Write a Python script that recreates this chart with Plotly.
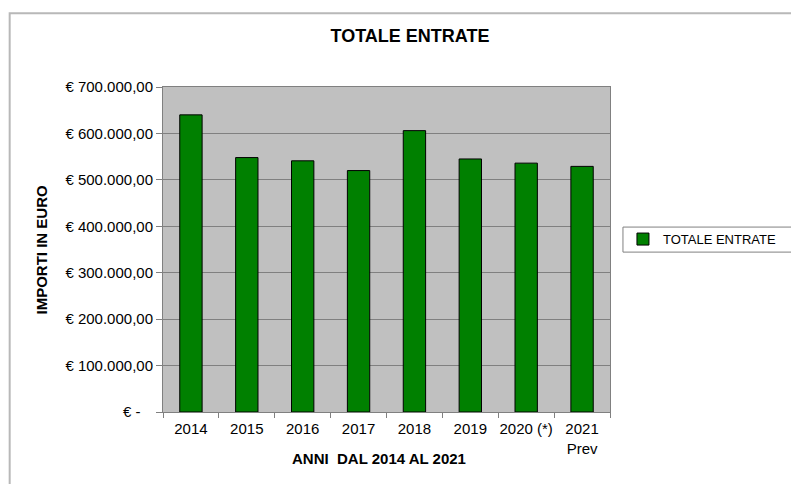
import plotly.graph_objects as go

categories = ["2014", "2015", "2016", "2017", "2018", "2019", "2020 (*)", "2021<br>Prev"]
values = [640000, 548000, 541000, 520000, 606000, 545000, 536000, 529000]
tick_vals = [0, 100000, 200000, 300000, 400000, 500000, 600000, 700000]
tick_text = ["€ -\u00a0\u00a0\u00a0", "€ 100.000,00", "€ 200.000,00", "€ 300.000,00", "€ 400.000,00",
             "€ 500.000,00", "€ 600.000,00", "€ 700.000,00"]

FONT = "Liberation Sans, Arial, sans-serif"

fig = go.Figure()
fig.add_trace(go.Bar(
    x=categories, y=values, name="TOTALE ENTRATE",
    marker=dict(color="#008000", line=dict(color="#000000", width=1)),
))

fig.update_layout(
    width=799, height=484,
    margin=dict(l=155, r=197, t=79, b=80, autoexpand=False),
    paper_bgcolor="white", plot_bgcolor="#c0c0c0",
    font=dict(family=FONT, size=15, color="#000000"),
    bargap=0.6,
    title=dict(text="<b>TOTALE ENTRATE</b>", x=402 / 799, xref="container", xanchor="center",
               y=1 - 28 / 484, yref="container", yanchor="middle",
               font=dict(size=18, family=FONT)),
    showlegend=True,
    legend=dict(x=1.029, xanchor="left", y=0.532, yanchor="middle",
                bgcolor="rgba(0,0,0,0)", borderwidth=0,
                font=dict(size=13, family=FONT)),
    shapes=[
        dict(type="rect", xref="paper", yref="paper", x0=-0.343, x1=1.6, y0=-0.3, y1=1.227,
             line=dict(color="#b8b8b8", width=2), fillcolor="rgba(0,0,0,0)", layer="below"),
        dict(type="rect", xref="paper", yref="paper", x0=1.029, x1=1.45, y0=0.492, y1=0.569,
             line=dict(color="#808080", width=1), fillcolor="white", layer="below"),
    ],
    annotations=[
        dict(text="<b>ANNI  DAL 2014 AL 2021</b>", xref="paper", yref="paper",
             x=0.483, y=-0.1446, xanchor="center", yanchor="middle", showarrow=False,
             font=dict(size=15, family=FONT)),
        dict(text="<b>IMPORTI IN EURO</b>", xref="paper", yref="paper",
             x=-0.2707, y=0.5, xanchor="center", yanchor="middle", showarrow=False,
             textangle=-90, font=dict(size=15, family=FONT)),
    ],
)

fig.update_xaxes(
    showline=True, linecolor="#808080", linewidth=1, mirror=True,
    ticks="outside", tickson="boundaries", ticklen=5, tickcolor="#808080",
    tickfont=dict(size=15), showgrid=False, tickangle=0, automargin=False,
    ticklabelstandoff=3,
)
fig.update_yaxes(
    range=[0, 700000], tickvals=tick_vals, ticktext=tick_text,
    showline=True, linecolor="#808080", linewidth=1, mirror=True,
    ticks="outside", ticklen=6, tickcolor="#808080",
    showgrid=True, gridcolor="#808080", gridwidth=1, automargin=False,
    tickfont=dict(size=15), zeroline=False,
)

fig.write_html("out.html")
